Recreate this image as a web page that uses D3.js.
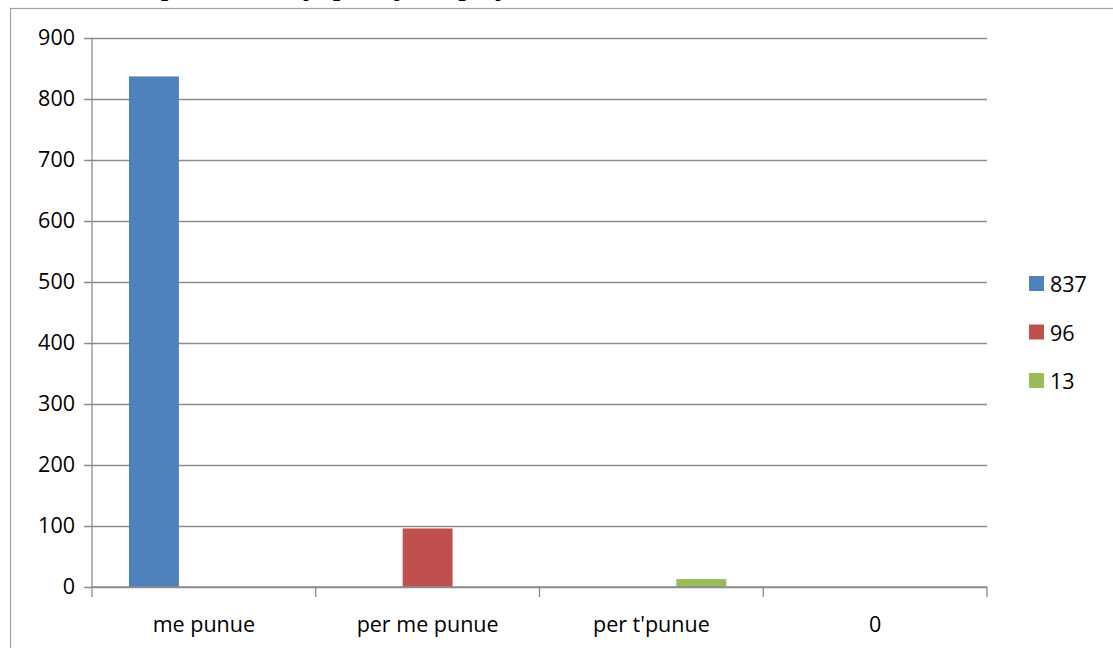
<!DOCTYPE html>
<html>
<head>
<meta charset="utf-8">
<script src="https://cdn.jsdelivr.net/npm/d3@7"></script>
<style>
  html, body { margin: 0; padding: 0; background: #fff; }
  svg { display: block; }
</style>
</head>
<body>
<svg id="chart" width="1113" height="648"></svg>
<script>
// Categories on the x axis
const categories = ["me punue", "per me punue", "per t'punue", "0"];
// Series (named by their total), one value per category
const seriesNames = ["837", "96", "13"];
const seriesValues = [
  [837, 0, 0, 0],
  [0, 96, 0, 0],
  [0, 0, 13, 0]
];
const seriesColors = ["#4F81BD", "#C0504D", "#9BBB59"];
const yTicks = [0, 100, 200, 300, 400, 500, 600, 700, 800, 900];
const titleText = "Numri i personave që punojnë apo jo";

const svg = d3.select("#chart");
const font = "'Open Sans', sans-serif";
const gridColor = "#8c8c8c";

// Title sitting above the chart frame (only its descenders fall on the page)
svg.append("text")
  .attr("x", 56).attr("y", -4)
  .attr("font-family", "'Liberation Serif', serif")
  .attr("font-weight", "bold").attr("font-style", "italic")
  .attr("font-size", 26).attr("letter-spacing", 2)
  .attr("fill", "#000")
  .text(titleText);

// Chart frame
svg.append("rect")
  .attr("x", 10.5).attr("y", 8.5)
  .attr("width", 1200).attr("height", 800)
  .attr("fill", "none").attr("stroke", "#a0a0a0").attr("stroke-width", 1.2);

const plot = { left: 92, right: 987, top: 38, bottom: 587 };

const x = d3.scaleBand().domain(categories).range([plot.left, plot.right]).paddingInner(0).paddingOuter(0);
const y = d3.scaleLinear().domain([0, 900]).range([plot.bottom, plot.top]);
const groupPad = 37;
const xs = d3.scaleBand().domain(seriesNames)
  .range([groupPad, x.bandwidth() - groupPad]).padding(0);

// Horizontal gridlines with left tick marks
const yAxis = d3.axisLeft(y).tickValues(yTicks).tickSize(-(plot.right - plot.left)).tickPadding(17).tickFormat(d3.format("d"));
const gy = svg.append("g").attr("transform", `translate(${plot.left},0)`).call(yAxis);
gy.select(".domain").remove();
gy.selectAll(".tick line").attr("stroke", gridColor).attr("stroke-width", 1.3)
  .attr("x1", -8);
gy.selectAll(".tick text").attr("font-family", font).attr("font-size", 21.5).attr("fill", "#000");

// Vertical axis line
svg.append("line")
  .attr("x1", plot.left).attr("x2", plot.left)
  .attr("y1", plot.top).attr("y2", plot.bottom)
  .attr("stroke", gridColor).attr("stroke-width", 1.3);

// Bars
seriesNames.forEach((name, si) => {
  svg.append("g").selectAll("rect")
    .data(seriesValues[si].map((v, ci) => ({ v, c: categories[ci] })))
    .join("rect")
    .attr("x", d => x(d.c) + xs(name))
    .attr("width", xs.bandwidth())
    .attr("y", d => y(d.v))
    .attr("height", d => y(0) - y(d.v))
    .attr("fill", seriesColors[si]);
});

// Category axis with boundary ticks
const gx = svg.append("g").attr("transform", `translate(0,${plot.bottom})`);
gx.append("line")
  .attr("x1", plot.left).attr("x2", plot.right)
  .attr("stroke", gridColor).attr("stroke-width", 1.3);
const bounds = categories.map(c => x(c)).concat([x.range()[1]]);
gx.selectAll("line.b").data(bounds).join("line").attr("class", "b")
  .attr("x1", d => d).attr("x2", d => d).attr("y1", 0).attr("y2", 10)
  .attr("stroke", gridColor).attr("stroke-width", 1.3);
gx.selectAll("text").data(categories).join("text")
  .attr("x", d => x(d) + x.bandwidth() / 2)
  .attr("y", 45)
  .attr("text-anchor", "middle")
  .attr("font-family", font).attr("font-size", 21.5).attr("fill", "#000")
  .text(d => d);

// Legend
const legend = svg.append("g").attr("transform", "translate(1029,276)");
const li = legend.selectAll("g").data(seriesNames).join("g")
  .attr("transform", (d, i) => `translate(0,${i * 48.5})`);
li.append("rect").attr("width", 15).attr("height", 15).attr("fill", (d, i) => seriesColors[i]);
li.append("text").attr("x", 21).attr("y", 16)
  .attr("font-family", font).attr("font-size", 21.5).attr("fill", "#000")
  .text(d => d);
</script>
</body>
</html>
